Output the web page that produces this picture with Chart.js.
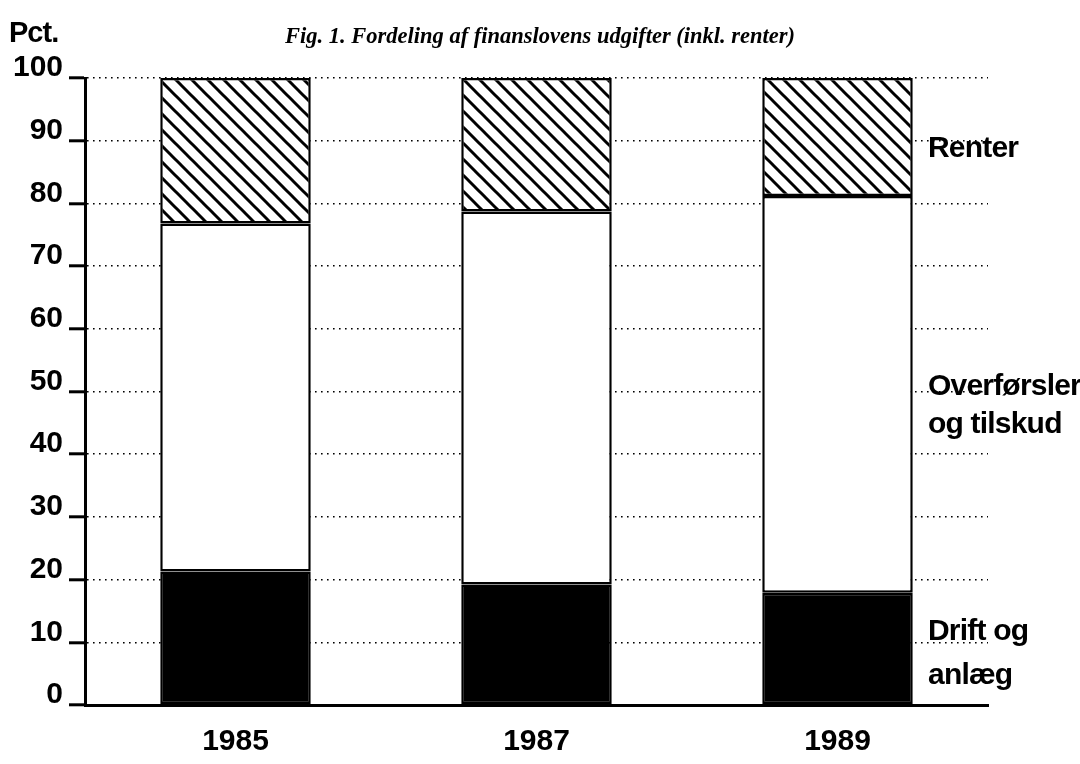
<!DOCTYPE html>
<html>
<head>
<meta charset="utf-8">
<script src="https://cdn.jsdelivr.net/npm/chart.js@4/dist/chart.umd.min.js"></script>
<style>
  html, body { margin: 0; padding: 0; background: #fff; }
  #wrap { width: 1080px; height: 764px; }
</style>
</head>
<body>
<div id="wrap"><canvas id="fig1"></canvas></div>
<script>
const years = ['1985', '1987', '1989']
const drift = [21.3, 19.2, 17.9]
const overforsler = [55.5, 59.5, 63.3]
const renter = [23.2, 21.3, 18.8]
const seriesLabels = {
  renter: ['Renter'],
  overforsler: ['Overførsler', 'og tilskud'],
  drift: ['Drift og', 'anlæg']
}
const title = 'Fig. 1. Fordeling af finanslovens udgifter (inkl. renter)'
const unit = 'Pct.'

const sans = "'Liberation Sans', Arial, sans-serif"

// diagonal hatch for Renter
const makeHatch = () => {
  const s = 16
  const c = document.createElement('canvas')
  c.width = s
  c.height = s
  const g = c.getContext('2d')
  g.fillStyle = '#fff'
  g.fillRect(0, 0, s, s)
  g.strokeStyle = '#000'
  g.lineWidth = 3
  for (const x0 of [-s, 0, s]) {
    g.beginPath()
    g.moveTo(x0 - 2, -2)
    g.lineTo(x0 + s + 2, s + 2)
    g.stroke()
  }
  return g.createPattern(c, 'repeat')
}

const sideLabels = {
  id: 'sideLabels',
  afterDraw(chart) {
    const { ctx, scales: { y } } = chart
    ctx.save()
    ctx.fillStyle = '#000'
    ctx.textBaseline = 'alphabetic'

    ctx.font = `bold 29px ${sans}`
    ctx.textAlign = 'left'
    ctx.letterSpacing = '-1px'
    ctx.fillText(unit, 9, 42)

    ctx.letterSpacing = '0px'
    ctx.font = "italic bold 22.5px 'Liberation Serif', 'Times New Roman', serif"
    ctx.textAlign = 'center'
    ctx.fillText(title, 540, 43)

    // series names, baselines anchored to y values
    ctx.font = `bold 30px ${sans}`
    ctx.textAlign = 'left'
    ctx.letterSpacing = '-0.8px'
    const x = 928
    const put = (lines, vals) => {
      lines.forEach((t, i) => ctx.fillText(t, x, y.getPixelForValue(vals[i])))
    }
    put(seriesLabels.renter, [87.4])
    put(seriesLabels.overforsler, [49.4, 43.4])
    put(seriesLabels.drift, [10.4, 3.4])
    ctx.restore()
  }
}

const bar = { borderColor: '#000', borderWidth: 2.5, borderSkipped: false, barPercentage: 0.5, categoryPercentage: 1 }

new Chart(document.getElementById('fig1'), {
  type: 'bar',
  data: {
    labels: years,
    datasets: [
      { label: 'Drift og anlæg', data: drift, backgroundColor: '#000', ...bar },
      { label: 'Overførsler og tilskud', data: overforsler, backgroundColor: '#fff', ...bar },
      { label: 'Renter', data: renter, backgroundColor: makeHatch(), ...bar }
    ]
  },
  options: {
    responsive: true,
    maintainAspectRatio: false,
    animation: false,
    layout: { padding: { top: 78, right: 92, left: 0, bottom: 0 } },
    plugins: { legend: { display: false }, tooltip: { enabled: false } },
    scales: {
      x: {
        stacked: true,
        grid: { display: false },
        border: { color: '#000', width: 3 },
        ticks: { color: '#000', padding: 11, font: { family: sans, size: 30, weight: 'bold' } },
        afterFit: s => { s.height = 59 }
      },
      y: {
        stacked: true,
        min: 0,
        max: 100,
        ticks: {
          stepSize: 10,
          color: '#000',
          padding: 6,
          labelOffset: -10,
          font: { family: sans, size: 30, weight: 'bold' }
        },
        grid: {
          color: '#000',
          lineWidth: 1.6,
          tickLength: 16,
          tickColor: '#000',
          tickWidth: 3,
          tickBorderDash: []
        },
        border: { color: '#000', width: 3, dash: [1.6, 4.4] },
        afterFit: s => { s.width = 85 }
      }
    }
  },
  plugins: [sideLabels]
})
</script>
</body>
</html>
